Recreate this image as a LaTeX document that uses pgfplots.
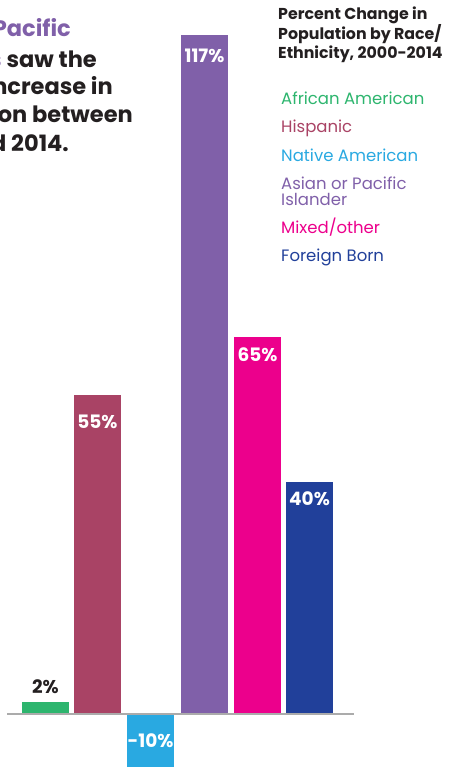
\documentclass[border=0pt]{standalone}
\usepackage{pgfplots}
\pgfplotsset{compat=1.18}
\usepackage{fontspec}
\setmainfont{Poppins}

\definecolor{cAfr}{HTML}{2DB56E}
\definecolor{cHis}{HTML}{A94365}
\definecolor{cNat}{HTML}{29A9E1}
\definecolor{cAsi}{HTML}{8060A9}
\definecolor{cMix}{HTML}{EC008C}
\definecolor{cFor}{HTML}{21409A}
\definecolor{txt}{HTML}{231F20}
\definecolor{baseGray}{HTML}{ABABAB}

\begin{document}
\begin{tikzpicture}[x=1pt,y=1pt]
\useasboundingbox (0,0) rectangle (448,767);
\clip (0,0) rectangle (448,767);

\begin{axis}[
  at={(0,0)}, anchor=south west,
  scale only axis, width=448pt, height=767pt,
  xmin=0, xmax=448, ymin=-9.138, ymax=123.1,
  hide axis, clip=false,
  ybar, bar width=47, bar shift=0pt,
  nodes near coords, point meta=explicit symbolic,
  every node near coord/.style={font=\bfseries\fontsize{18.5}{18.5}\selectfont,
    color=white, anchor=base, inner sep=0pt},
]
\addplot[fill=cAfr, draw=none, every node near coord/.append style={color=txt, yshift=8.5pt}]
  coordinates {(45.5,2) [2\%]};
\addplot[fill=cHis, draw=none, every node near coord/.append style={yshift=-34pt}]
  coordinates {(97.5,55) [55\%]};
\addplot[fill=cNat, draw=none, every node near coord/.append style={yshift=24pt}]
  coordinates {(150.5,-10) [-10\%]};
\addplot[fill=cAsi, draw=none, every node near coord/.append style={yshift=-27.5pt}]
  coordinates {(204.5,117) [117\%]};
\addplot[fill=cMix, draw=none, every node near coord/.append style={yshift=-25pt}]
  coordinates {(257.5,65) [65\%]};
\addplot[fill=cFor, draw=none, every node near coord/.append style={yshift=-24pt}]
  coordinates {(309.5,40) [40\%]};
\draw[baseGray, line width=1.6pt] (axis cs:7,0) -- (axis cs:354,0);
\end{axis}

% headline on the left, cut by the picture edge
\begin{scope}[every node/.style={inner sep=0pt, anchor=base east,
    font=\bfseries\fontsize{22.5}{22.5}\selectfont, color=txt}]
\node[color=cAsi] at (71,730) {Asian or Pacific};
\node at (97,699) {\textcolor{cAsi}{Islanders} saw the};
\node at (113,672) {largest increase in};
\node at (133,644) {population between};
\node at (69,615) {2000 and 2014.};
\end{scope}

% chart title
\begin{scope}[every node/.style={inner sep=0pt, anchor=base west,
    font=\bfseries\fontsize{15.8}{15.8}\selectfont, color=txt}]
\node at (278,747) {Percent Change in};
\node at (278,727.5) {Population by Race/};
\node at (278,708) {Ethnicity, 2000-2014};
\end{scope}

% legend
\begin{scope}[every node/.style={inner sep=0pt, anchor=base west,
    font=\fontsize{16.5}{16.5}\selectfont}]
\node[color=cAfr] at (281,662) {African American};
\node[color=cHis] at (281,634) {Hispanic};
\node[color=cNat] at (281,605) {Native American};
\node[color=cAsi] at (281,577) {Asian or Pacific};
\node[color=cAsi] at (281,561) {Islander};
\node[color=cMix] at (281,533) {Mixed/other};
\node[color=cFor] at (281,505) {Foreign Born};
\end{scope}
\end{tikzpicture}
\end{document}
